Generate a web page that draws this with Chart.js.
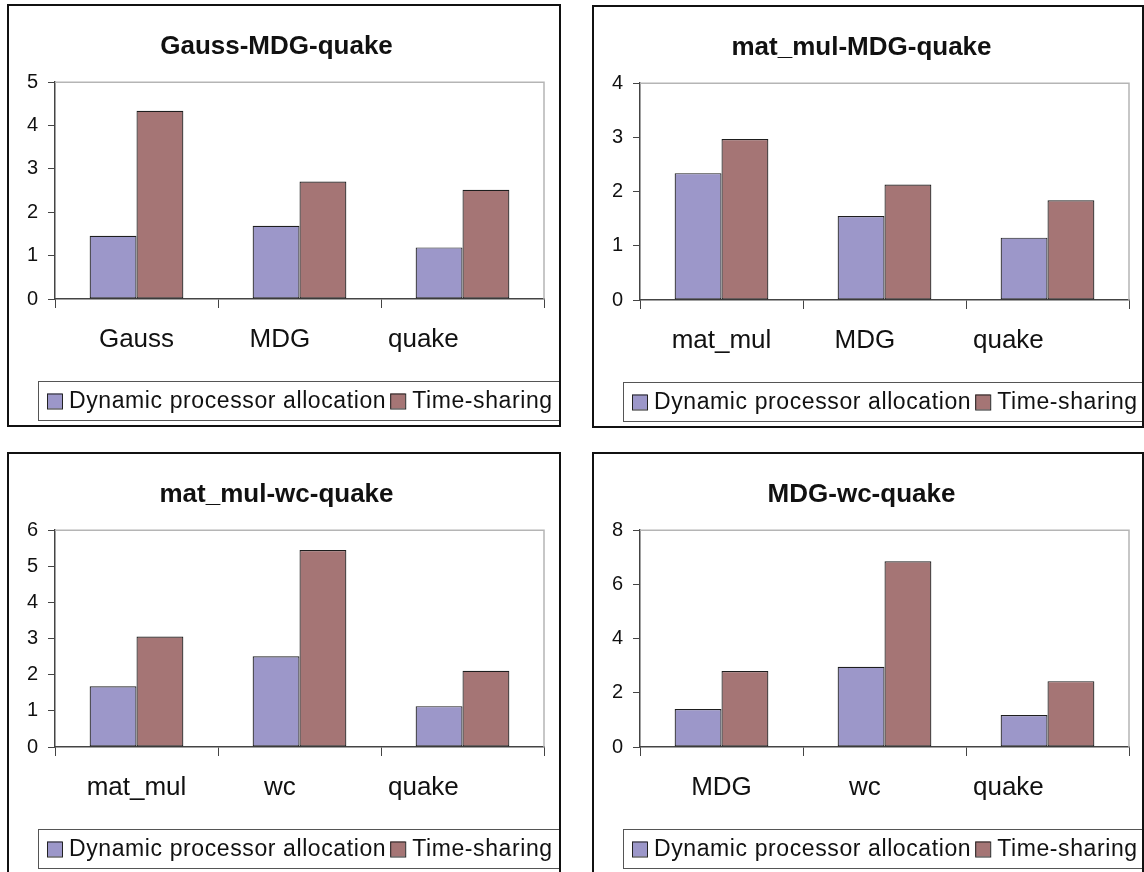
<!DOCTYPE html>
<html>
<head>
<meta charset="utf-8">
<script src="https://cdn.jsdelivr.net/npm/chart.js@4.4.0/dist/chart.umd.min.js"></script>
<style>
  html, body { margin: 0; padding: 0; background: #fff; }
  body { width: 1144px; height: 872px; overflow: hidden; position: relative; }
  .box { position: absolute; border: 2px solid #111; box-sizing: border-box; background: #fff; }
  .box canvas { display: block; }
</style>
</head>
<body>
<div class="box" style="left:7px;top:4px;width:554px;height:423px;"><canvas id="c1" width="550" height="419"></canvas></div>
<div class="box" style="left:592px;top:5px;width:552px;height:423px;"><canvas id="c2" width="548" height="419"></canvas></div>
<div class="box" style="left:7px;top:452px;width:554px;height:423px;"><canvas id="c3" width="550" height="419"></canvas></div>
<div class="box" style="left:592px;top:452px;width:552px;height:423px;"><canvas id="c4" width="548" height="419"></canvas></div>

<script>
// series names
const seriesNames = ['Dynamic processor allocation', 'Time-sharing'];
const seriesColors = ['#9c97c9', '#a57575'];

// chart 1
const title1 = 'Gauss-MDG-quake';
const cats1 = ['Gauss', 'MDG', 'quake'];
const dyn1 = [1.46, 1.69, 1.19];
const ts1 = [4.34, 2.71, 2.52];
const yTicks1 = [0, 1, 2, 3, 4, 5];

// chart 2
const title2 = 'mat_mul-MDG-quake';
const cats2 = ['mat_mul', 'MDG', 'quake'];
const dyn2 = [2.34, 1.55, 1.15];
const ts2 = [2.97, 2.13, 1.84];
const yTicks2 = [0, 1, 2, 3, 4];

// chart 3
const title3 = 'mat_mul-wc-quake';
const cats3 = ['mat_mul', 'wc', 'quake'];
const dyn3 = [1.68, 2.51, 1.13];
const ts3 = [3.06, 5.45, 2.11];
const yTicks3 = [0, 1, 2, 3, 4, 5, 6];

// chart 4
const title4 = 'MDG-wc-quake';
const cats4 = ['MDG', 'wc', 'quake'];
const dyn4 = [1.40, 2.96, 1.18];
const ts4 = [2.80, 6.85, 2.43];
const yTicks4 = [0, 2, 4, 6, 8];

const FONT = "'Liberation Sans', Arial, Helvetica, sans-serif";

// gray frame on top and right of plot area
const plotFrame = {
    id: 'plotFrame',
    beforeDatasetsDraw(chart) {
        let a = chart.chartArea;
        let ctx = chart.ctx;
        ctx.save();
        ctx.strokeStyle = '#b5b5b5';
        ctx.lineWidth = 1.5;
        ctx.beginPath();
        ctx.moveTo(a.left, a.top);
        ctx.lineTo(a.right, a.top);
        ctx.lineTo(a.right, a.bottom);
        ctx.stroke();
        ctx.restore();
    }
};

// category names under the axis (spaced like the original)
const catLabels = {
    id: 'catLabels',
    afterDraw(chart) {
        let x = chart.scales.x;
        let ctx = chart.ctx;
        let w = (x.right - x.left) / chart.data.labels.length;
        ctx.save();
        ctx.font = '26px ' + FONT;
        ctx.fillStyle = '#111';
        ctx.textAlign = 'center';
        ctx.textBaseline = 'middle';
        chart.data.labels.forEach((lab, i) => {
            ctx.fillText(lab, x.left + w * (0.5 + i * 0.88), chart.chartArea.bottom + 41);
        });
        ctx.restore();
    }
};

// boxed legend at the bottom
const boxLegend = {
    id: 'boxLegend',
    afterDraw(chart) {
        let ctx = chart.ctx;
        let top = chart.chartArea.bottom + 82;
        let left = 29;
        let h = 39;
        ctx.save();
        ctx.strokeStyle = '#555';
        ctx.lineWidth = 1;
        ctx.strokeRect(left + 0.5, top + 0.5, chart.width - left, h);
        ctx.font = '23px ' + FONT;
        if ('letterSpacing' in ctx) ctx.letterSpacing = '0.6px';
        ctx.textBaseline = 'middle';
        ctx.fillStyle = '#111';
        let cx = left + 9;
        let cy = top + h / 2 + 1;
        chart.data.datasets.forEach(ds => {
            ctx.fillStyle = ds.backgroundColor;
            ctx.fillRect(cx, cy - 8, 15, 15);
            ctx.strokeStyle = '#222';
            ctx.strokeRect(cx + 0.5, cy - 7.5, 15, 15);
            ctx.fillStyle = '#111';
            ctx.fillText(ds.label, cx + 22, cy);
            cx += 22 + ctx.measureText(ds.label).width + 4;
        });
        ctx.restore();
    }
};

function makeChart(id, title, cats, dyn, ts, yTicks, rightPad) {
    let ctx = document.getElementById(id).getContext('2d');
    return new Chart(ctx, {
        type: 'bar',
        data: {
            labels: cats,
            datasets: [
                { label: seriesNames[0], data: dyn, backgroundColor: seriesColors[0] },
                { label: seriesNames[1], data: ts, backgroundColor: seriesColors[1] }
            ]
        },
        options: {
            responsive: false,
            animation: false,
            layout: { padding: { left: 0, right: rightPad, top: 0, bottom: 117 } },
            datasets: {
                bar: {
                    barPercentage: 1,
                    categoryPercentage: 0.575,
                    borderColor: '#1e1e1e',
                    borderWidth: 1.2,
                    borderSkipped: false
                }
            },
            plugins: {
                legend: { display: false },
                tooltip: { enabled: false },
                title: {
                    display: true,
                    text: title,
                    color: '#111',
                    font: { family: FONT, size: 26, weight: 'bold' },
                    padding: { top: 25, bottom: 20 }
                }
            },
            scales: {
                x: {
                    offset: true,
                    grid: { offset: true, drawOnChartArea: false, tickLength: 9, color: '#444', lineWidth: 1 },
                    border: { color: '#444', width: 1.5 },
                    ticks: { display: false },
                    afterFit: s => { s.height = 9; }
                },
                y: {
                    min: yTicks[0],
                    max: yTicks[yTicks.length - 1],
                    afterBuildTicks: s => { s.ticks = yTicks.map(v => ({ value: v })); },
                    grid: { drawOnChartArea: false, tickLength: 7, color: '#444', lineWidth: 1 },
                    border: { color: '#444', width: 1.5 },
                    ticks: { color: '#111', font: { family: FONT, size: 20 }, padding: 10 },
                    afterFit: s => { s.width = 46; }
                }
            }
        },
        plugins: [plotFrame, catLabels, boxLegend]
    });
}

makeChart('c1', title1, cats1, dyn1, ts1, yTicks1, 15);
makeChart('c2', title2, cats2, dyn2, ts2, yTicks2, 13);
makeChart('c3', title3, cats3, dyn3, ts3, yTicks3, 15);
makeChart('c4', title4, cats4, dyn4, ts4, yTicks4, 13);
</script>
</body>
</html>
